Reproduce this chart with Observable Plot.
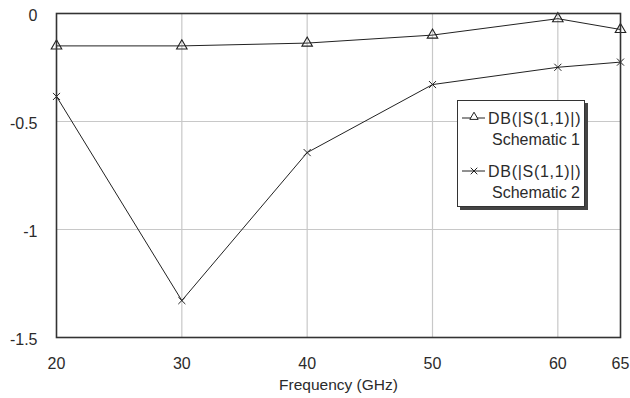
<!DOCTYPE html>
<html>
<head>
<meta charset="utf-8">
<script src="https://cdn.jsdelivr.net/npm/d3@7"></script>
<script src="https://cdn.jsdelivr.net/npm/@observablehq/plot@0.6"></script>
<style>
  html, body { margin: 0; padding: 0; background: #fff; }
  #chart { width: 630px; height: 398px; }
</style>
</head>
<body>
<div id="chart"></div>
<script>
const freq = [20, 30, 40, 50, 60, 65];
const s1 = [-0.15, -0.15, -0.137, -0.1, -0.024, -0.074];
const s2 = [-0.384, -1.329, -0.644, -0.329, -0.249, -0.225];
const xTicks = [20, 30, 40, 50, 60, 65];
const yTicks = [-1.5, -1, -0.5, 0];
const gridX = [30, 40, 50, 60];
const gridY = [-1, -0.5];
const seriesNames = ["DB(|S(1,1)|)", "DB(|S(1,1)|)"];
const seriesSub = ["Schematic 1", "Schematic 2"];
const xLabel = "Frequency (GHz)";

const d1 = freq.map((f, i) => ({f, v: s1[i]}));
const d2 = freq.map((f, i) => ({f, v: s2[i]}));

const ink = "#2b2b2b";
const plot = Plot.plot({
  width: 630,
  height: 398,
  marginLeft: 56,
  marginRight: 10,
  marginTop: 13,
  marginBottom: 61,
  style: {fontFamily: "'Liberation Sans', Arial, sans-serif", fontSize: "16px", color: ink, background: "#fff"},
  x: {domain: [20, 65], ticks: xTicks, label: null},
  y: {domain: [-1.5, 0], ticks: yTicks, label: null},
  marks: [
    Plot.ruleX(gridX, {stroke: "#c8c8c8", strokeWidth: 1.2}),
    Plot.ruleY(gridY, {stroke: "#c8c8c8", strokeWidth: 1.2}),
    Plot.axisX({ticks: xTicks, tickSize: 0, tickPadding: 20, tickFormat: d => String(d), fontSize: 16, fill: ink, label: null}),
    Plot.axisY({ticks: yTicks, tickSize: 0, tickPadding: 19, tickFormat: d => String(d), fontSize: 16, fill: ink, dy: 2, label: null}),
    Plot.text([xLabel], {frameAnchor: "bottom", dy: 48, fontSize: 15.5, fill: ink, lineAnchor: "middle"}),
    Plot.line(d1, {x: "f", y: "v", stroke: "#222", strokeWidth: 1}),
    Plot.line(d2, {x: "f", y: "v", stroke: "#222", strokeWidth: 1}),
    Plot.dot(d1, {x: "f", y: "v", symbol: "triangle", r: 3.9, stroke: "#222", fill: "none", strokeWidth: 1.1}),
    Plot.dot(d2, {x: "f", y: "v", symbol: "times", r: 3.3, stroke: "#222", strokeWidth: 1}),
    Plot.frame({stroke: "#333", strokeWidth: 1.6})
  ]
});
document.getElementById("chart").appendChild(plot);

// legend
const svg = d3.select(plot);
const lg = svg.append("g").attr("font-family", "'Liberation Sans', Arial, sans-serif").attr("font-size", 16).attr("fill", ink);
lg.append("rect").attr("x", 460).attr("y", 103).attr("width", 128).attr("height", 107).attr("fill", "#444");
lg.append("rect").attr("x", 457.5).attr("y", 100.5).attr("width", 127).attr("height", 106).attr("fill", "#fff").attr("stroke", "#333").attr("stroke-width", 1);
const rows = [118, 171];
rows.forEach((y, i) => {
  lg.append("line").attr("x1", 462).attr("x2", 485).attr("y1", y).attr("y2", y).attr("stroke", "#222").attr("stroke-width", 1);
  if (i === 0) {
    lg.append("path").attr("d", d3.symbol(d3.symbolTriangle, 30)()).attr("transform", `translate(474,${y - 1})`).attr("fill", "#fff").attr("stroke", "#222");
  } else {
    lg.append("path").attr("d", d3.symbol(d3.symbolTimes, 30)()).attr("transform", `translate(474,${y})`).attr("fill", "none").attr("stroke", "#222");
  }
  lg.append("text").attr("x", 488).attr("y", y).attr("dy", "0.35em").attr("text-anchor", "start").attr("letter-spacing", "0.7px").text(seriesNames[i]);
  lg.append("text").attr("x", 580).attr("y", y + 21).attr("dy", "0.35em").attr("text-anchor", "end").text(seriesSub[i]);
});
</script>
</body>
</html>
